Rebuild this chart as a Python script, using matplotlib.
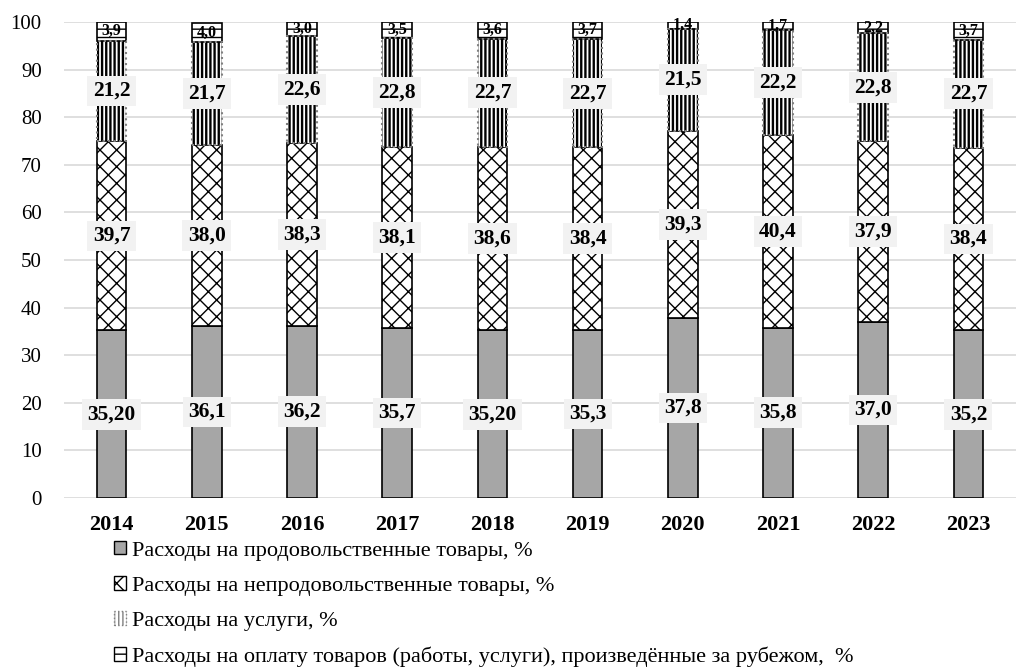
import matplotlib.pyplot as plt
import numpy as np
from matplotlib.patches import Patch

plt.rcParams['font.family'] = ['Liberation Serif', 'DejaVu Serif']
plt.rcParams['hatch.linewidth'] = 1.0

years = ['2014', '2015', '2016', '2017', '2018', '2019', '2020', '2021', '2022', '2023']
food = [35.20, 36.1, 36.2, 35.7, 35.20, 35.3, 37.8, 35.8, 37.0, 35.2]
nonfood = [39.7, 38.0, 38.3, 38.1, 38.6, 38.4, 39.3, 40.4, 37.9, 38.4]
services = [21.2, 21.7, 22.6, 22.8, 22.7, 22.7, 21.5, 22.2, 22.8, 22.7]
abroad = [3.9, 4.0, 3.0, 3.5, 3.6, 3.7, 1.4, 1.7, 2.2, 3.7]
food_labels = ['35,20', '36,1', '36,2', '35,7', '35,20', '35,3', '37,8', '35,8', '37,0', '35,2']

series_names = [
    'Расходы на продовольственные товары, %',
    'Расходы на непродовольственные товары, %',
    'Расходы на услуги, %',
    'Расходы на оплату товаров (работы, услуги), произведённые за рубежом,  %',
]


def fmt(v):
    return ('%.1f' % v).replace('.', ',')


def thick_hatch(patches, lw):
    for p in patches:
        try:
            p.set_hatch_linewidth(lw)
        except AttributeError:
            pass


fig = plt.figure(figsize=(10.16, 6.68), dpi=100)
ax = fig.add_axes([0.063, 0.2545, 0.937, 0.7126])

x = np.arange(len(years))
w = 0.31
food_a = np.array(food)
nonfood_a = np.array(nonfood)
serv_a = np.array(services)
abroad_a = np.array(abroad)

ax.bar(x, food_a, w, color='#a6a6a6', edgecolor='black', linewidth=1.2, zorder=3)
ax.bar(x, nonfood_a, w, bottom=food_a, color='white', edgecolor='black',
       hatch='xx', linewidth=1.2, zorder=3)
bot3 = food_a + nonfood_a
serv_bars = ax.bar(x, serv_a, w, bottom=bot3, color='white', edgecolor='black',
                   hatch='||||', linewidth=0, zorder=3)
thick_hatch(serv_bars, 1.7)
# dotted gray outline on the services segment
ax.bar(x, serv_a, w, bottom=bot3, fill=False, edgecolor='#808080', linestyle=':',
       linewidth=1.5, zorder=4)
bot4 = bot3 + serv_a
ax.bar(x, abroad_a, w, bottom=bot4, color='white', edgecolor='black',
       hatch='--', linewidth=1.2, zorder=3)

box = dict(boxstyle='square,pad=0.25', facecolor='#f2f2f2', edgecolor='none')
for i in range(len(years)):
    ax.text(x[i], food_a[i] / 2, food_labels[i], ha='center', va='center',
            fontsize=15.5, fontweight='bold', bbox=box, zorder=5)
    ax.text(x[i], food_a[i] + nonfood_a[i] / 2, fmt(nonfood[i]), ha='center', va='center',
            fontsize=15.5, fontweight='bold', bbox=box, zorder=5)
    ax.text(x[i], bot3[i] + serv_a[i] / 2, fmt(services[i]), ha='center', va='center',
            fontsize=15.5, fontweight='bold', bbox=box, zorder=5)
    ax.text(x[i], bot4[i] + abroad_a[i] / 2, fmt(abroad[i]), ha='center', va='center',
            fontsize=11.5, fontweight='bold', zorder=5)

ax.set_ylim(0, 100)
ax.set_xlim(-0.5, len(years) - 0.5)
ax.set_yticks(np.arange(0, 101, 10))
ax.set_xticks(x)
ax.set_xticklabels(years, fontweight='bold', fontsize=16)
ax.tick_params(axis='y', labelsize=15, length=0, pad=16)
ax.tick_params(axis='x', length=0, pad=12)
ax.grid(axis='y', color='#d9d9d9', linewidth=1.2, zorder=0)
for s in ax.spines.values():
    s.set_visible(False)

handles = [
    Patch(facecolor='#a6a6a6', edgecolor='black'),
    Patch(facecolor='white', edgecolor='black', hatch='xx'),
    Patch(facecolor='white', edgecolor='#808080', hatch='||||', linestyle=':'),
    Patch(facecolor='white', edgecolor='black', hatch='--'),
]
thick_hatch(handles[2:3], 1.7)
fig.legend(handles, series_names, loc='upper left', bbox_to_anchor=(0.112, 0.19),
           frameon=False, fontsize=16, handlelength=0.55, handleheight=0.55,
           handletextpad=0.25, labelspacing=0.7, borderaxespad=0, borderpad=0)

fig.savefig('out.png', dpi=100)
